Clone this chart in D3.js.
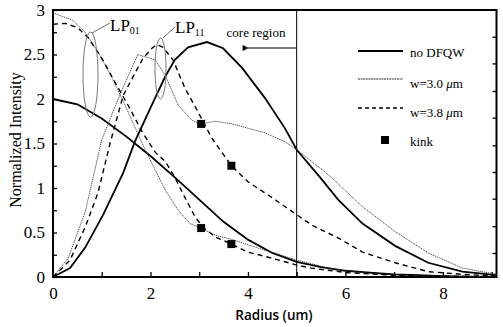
<!DOCTYPE html>
<html><head><meta charset="utf-8">
<script src="https://cdn.jsdelivr.net/npm/d3@7"></script>
<style>body{margin:0;background:#fff}svg{display:block}</style>
</head><body><svg id="c" width="503" height="327"></svg>
<script>
// ---- data ----
const noDFQW_LP01 = [[0,2.0],[0.5,1.94],[1,1.78],[1.5,1.58],[2,1.36],[2.5,1.12],[3,0.87],[3.5,0.62],[4,0.42],[4.5,0.27],[5,0.17],[5.5,0.11],[6,0.07],[6.5,0.05],[7,0.03],[7.5,0.02],[8,0.01],[8.5,0.005],[9.1,0]];
const noDFQW_LP11 = [[0,0],[0.35,0.1],[0.66,0.33],[1.03,0.7],[1.44,1.17],[1.68,1.52],[2.0,1.9],[2.3,2.25],[2.5,2.44],[2.77,2.58],[3.16,2.64],[3.49,2.57],[3.88,2.35],[4.35,2.01],[4.76,1.67],[5.0,1.43],[5.48,1.12],[5.85,0.87],[6.35,0.6],[7.02,0.35],[7.7,0.16],[8.4,0.06],[9.1,0.02]];
const w30_LP01 = [[0,2.97],[0.18,2.93],[0.39,2.89],[0.66,2.75],[0.92,2.53],[1.2,2.25],[1.48,1.93],[1.75,1.6],[1.89,1.43],[2.3,0.98],[2.57,0.75],[2.81,0.6],[3.04,0.55],[3.33,0.47],[3.68,0.42],[4.35,0.3],[5.0,0.19],[5.65,0.1],[6.5,0.04],[7.5,0.01],[9.1,0]];
const w30_LP11 = [[0,0],[0.31,0.21],[0.66,0.73],[1.0,1.54],[1.35,2.02],[1.74,2.5],[2.09,2.44],[2.3,2.27],[2.57,1.93],[2.85,1.76],[3.04,1.72],[3.33,1.75],[3.68,1.72],[4.35,1.62],[4.76,1.52],[5.0,1.43],[5.65,1.15],[6.35,0.79],[7.02,0.51],[7.7,0.27],[8.4,0.1],[9.1,0.03]];
const w38_LP01 = [[0,2.84],[0.25,2.85],[0.51,2.8],[0.72,2.69],[1.0,2.46],[1.27,2.19],[1.54,1.93],[1.83,1.63],[2.1,1.4],[2.3,1.3],[2.5,1.12],[2.71,0.89],[2.92,0.67],[3.1,0.55],[3.33,0.45],[3.66,0.37],[4.0,0.28],[4.5,0.21],[5.03,0.13],[5.3,0.1],[6,0.05],[7,0.02],[8,0.01],[9.1,0]];
const w38_LP11 = [[0,0],[0.35,0.19],[0.66,0.56],[0.92,0.94],[1.17,1.5],[1.44,2.04],[1.72,2.33],[1.85,2.46],[2.03,2.57],[2.13,2.61],[2.26,2.58],[2.46,2.44],[2.71,2.12],[2.98,1.85],[3.26,1.56],[3.66,1.25],[4.0,1.07],[4.5,0.89],[5.0,0.7],[5.32,0.58],[5.85,0.44],[6.35,0.28],[7.02,0.16],[7.7,0.06],[8.4,0.03],[9.1,0.01]];
const kinks = [[3.04,1.72],[3.66,1.25],[3.04,0.55],[3.66,0.37]];
const yTickLabels = [0,0.5,1,1.5,2,2.5,3];
const yMinorTicks = [0,0.25,0.5,0.75,1,1.25,1.5,1.75,2,2.25,2.5,2.75,3];
const xTickLabels = [0,2,4,6,8];
const xTicks = [0,1,2,3,4,5,6,7,8,9];
const rightTicks = [0.27,0.57,0.88,1.18,1.48,1.79,2.09,2.4,2.7];
const coreRadius = 5;
const legendItems = ["no DFQW","w=3.0 ","w=3.8 "];

// ---- scales ----
const svg = d3.select("#c");
const x = d3.scaleLinear().domain([0,9.1]).range([53,496.5]);
const y = d3.scaleLinear().domain([0,3]).range([277,10]);
const serif = "'Liberation Serif', 'Times New Roman', serif";

// axes (inward ticks)
const gl = svg.append("g").attr("transform","translate(53,0)")
  .call(d3.axisLeft(y).tickValues(yMinorTicks).tickSize(-4).tickFormat(""));
const gl2 = svg.append("g").attr("transform","translate(53,0)")
  .call(d3.axisLeft(y).tickValues(yTickLabels).tickSize(0).tickPadding(8).tickFormat(d=>String(d)));
const gb = svg.append("g").attr("transform","translate(0,277)")
  .call(d3.axisBottom(x).tickValues(xTicks).tickSize(-5).tickFormat(""));
const gb2 = svg.append("g").attr("transform","translate(0,277)")
  .call(d3.axisBottom(x).tickValues(xTickLabels).tickSize(0).tickPadding(10).tickFormat(d=>String(d)));
const gr = svg.append("g").attr("transform","translate(496.5,0)")
  .call(d3.axisRight(y).tickValues(rightTicks).tickSize(-4).tickFormat(""));
[gl,gl2,gb,gb2,gr].forEach(g=>{g.select(".domain").remove();
  g.selectAll("line").attr("stroke","#000").attr("stroke-width",1.3);
  g.selectAll("text").attr("font-family",serif).attr("font-size",17).attr("fill","#000");});

// frame
svg.append("rect").attr("x",x(0)).attr("y",y(3)).attr("width",x(9.1)-x(0)).attr("height",y(0)-y(3))
  .attr("fill","none").attr("stroke","#000").attr("stroke-width",2);

// core line
svg.append("line").attr("x1",x(coreRadius)).attr("x2",x(coreRadius)).attr("y1",y(3)).attr("y2",y(0))
  .attr("stroke","#000").attr("stroke-width",1);
// arrow
svg.append("defs").append("marker").attr("id","ah").attr("viewBox","0 0 10 10").attr("refX",1).attr("refY",5)
  .attr("markerWidth",7).attr("markerHeight",5).attr("orient","auto-start-reverse")
  .append("path").attr("d","M0,5 L10,0 L10,10 Z").attr("fill","#000");
svg.append("line").attr("x1",x(coreRadius)).attr("x2",248).attr("y1",48).attr("y2",48)
  .attr("stroke","#000").attr("stroke-width",1.2).attr("marker-end","url(#ah)");
svg.append("text").attr("x",256).attr("y",37).attr("text-anchor","middle").attr("font-family",serif)
  .attr("font-size",13).text("core region");

// curves
const line = d3.line().x(d=>x(d[0])).y(d=>y(d[1]));
const styles = {
  solid:{w:1.8,dash:null,c:"#000"},
  dotted:{w:0.9,dash:"1.2,0.8",c:"#333"},
  dashed:{w:1.4,dash:"5,4",c:"#000"}
};
[[noDFQW_LP01,"solid"],[noDFQW_LP11,"solid"],[w30_LP01,"dotted"],[w30_LP11,"dotted"],[w38_LP01,"dashed"],[w38_LP11,"dashed"]]
.forEach(([d,s])=>{
  svg.append("path").attr("d",line(d)).attr("fill","none").attr("stroke",styles[s].c)
    .attr("stroke-width",styles[s].w).attr("stroke-dasharray",styles[s].dash);
});
// kinks
svg.selectAll(".k").data(kinks).join("rect").attr("x",d=>x(d[0])-4).attr("y",d=>y(d[1])-4)
  .attr("width",8).attr("height",8).attr("fill","#000");

// ellipses and labels
svg.append("ellipse").attr("cx",90.5).attr("cy",74.5).attr("rx",7.5).attr("ry",42.5)
  .attr("fill","none").attr("stroke","#777").attr("stroke-width",1);
svg.append("ellipse").attr("cx",160.5).attr("cy",68.5).attr("rx",5.5).attr("ry",30.5)
  .attr("fill","none").attr("stroke","#777").attr("stroke-width",1);
svg.append("line").attr("x1",92).attr("y1",33).attr("x2",110).attr("y2",23).attr("stroke","#444").attr("stroke-width",0.8);
svg.append("line").attr("x1",163).attr("y1",38).attr("x2",175).attr("y2",27).attr("stroke","#444").attr("stroke-width",0.8);
function lp(xp,yp,sub){
  const t = svg.append("text").attr("x",xp).attr("y",yp).attr("font-family",serif).attr("font-size",17);
  t.append("tspan").text("LP");
  t.append("tspan").attr("font-size",10).attr("dy",3).text(sub);
}
lp(110,31,"01");
lp(175,33,"11");

// legend
const lg = svg.append("g");
const ly = [51,79,108];
const lstyle = ["solid","dotted","dashed"];
ly.forEach((yy,i)=>{
  const s = styles[lstyle[i]];
  lg.append("line").attr("x1",358).attr("x2",403).attr("y1",yy).attr("y2",yy)
    .attr("stroke",s.c).attr("stroke-width",i==1?1:s.w).attr("stroke-dasharray",i==2?"4,3":(i==1?"2,0.6":null));
  const t = lg.append("text").attr("x",410).attr("y",yy+(i==0?6:9)).attr("font-family",serif).attr("font-size",13);
  t.append("tspan").text(legendItems[i]);
  if(i>0){ t.append("tspan").attr("font-style","italic").text("\u03BC"); t.append("tspan").text("m"); }
});
lg.append("rect").attr("x",381).attr("y",136).attr("width",8).attr("height",8).attr("fill","#000");
lg.append("text").attr("x",410).attr("y",146).attr("font-family",serif).attr("font-size",13).text("kink");

// axis titles
svg.append("text").attr("transform","translate(21,140) rotate(-90)").attr("text-anchor","middle")
  .attr("font-family",serif).attr("font-size",16).text("Normalized Intensity");
svg.append("text").attr("x",274).attr("y",320).attr("text-anchor","middle")
  .attr("font-family","'Open Sans', sans-serif").attr("font-weight",600).attr("font-size",13.5).text("Radius (um)");
</script></body></html>
